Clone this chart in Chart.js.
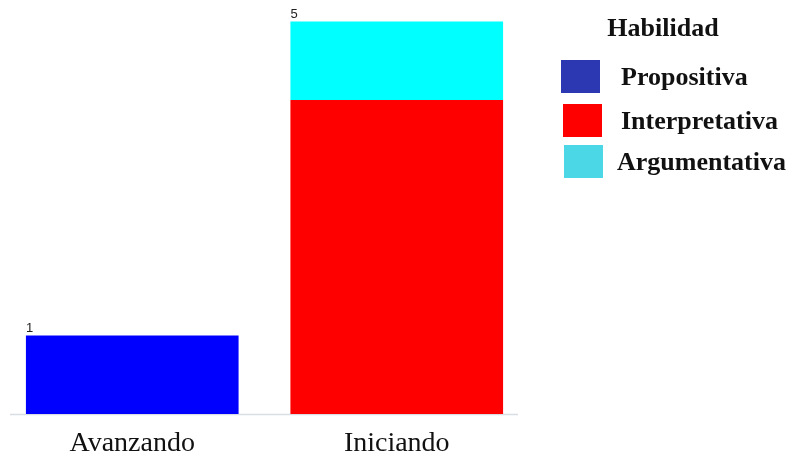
<!DOCTYPE html>
<html>
<head>
<meta charset="utf-8">
<script src="https://cdn.jsdelivr.net/npm/chart.js@4/dist/chart.umd.min.js"></script>
<style>
  html, body { margin: 0; padding: 0; background: #ffffff; }
  #wrap { width: 791px; height: 457px; position: relative; }
</style>
</head>
<body>
<div id="wrap"><canvas id="c" width="791" height="457"></canvas></div>
<script>
// Categories on the x axis
const categories = ['Avanzando', 'Iniciando'];

// Series (one per skill); null where a skill has no count
const seriesNames = ['Propositiva', 'Interpretativa', 'Argumentativa'];
const propositiva    = [1, null];
const interpretativa = [null, 4];
const argumentativa  = [null, 1];

const legendTitle = 'Habilidad';

// Styling
const barColors    = ['#0000ff', '#ff0000', '#00ffff'];
const swatchColors = ['#2b38b2', '#ff0000', '#4bd7e5'];

const seriesValues = [propositiva, interpretativa, argumentativa];

const datasets = seriesNames.map((name, i) => ({
  label: name,
  data: seriesValues[i],
  backgroundColor: barColors[i],
  borderWidth: 0,
  categoryPercentage: 1.0,
  barPercentage: 0.804
}));

// Baseline under the bars
const baselinePlugin = {
  id: 'baseline',
  beforeDatasetsDraw(chart) {
    const ctx = chart.ctx;
    const y = chart.scales.y.getPixelForValue(0);
    ctx.save();
    ctx.strokeStyle = '#d9dee4';
    ctx.lineWidth = 1.5;
    ctx.beginPath();
    ctx.moveTo(10, y + 0.5);
    ctx.lineTo(518, y + 0.5);
    ctx.stroke();
    ctx.restore();
  }
};

// Stack totals written just above the left edge of each bar
const totalsPlugin = {
  id: 'totals',
  afterDatasetsDraw(chart) {
    const ctx = chart.ctx;
    ctx.save();
    ctx.font = '13px "Liberation Sans", Arial, sans-serif';
    ctx.fillStyle = '#222222';
    ctx.textAlign = 'left';
    ctx.textBaseline = 'bottom';
    categories.forEach((cat, ci) => {
      let total = 0;
      let left = null;
      chart.data.datasets.forEach((ds, di) => {
        const v = ds.data[ci];
        if (v != null) {
          total += v;
          const el = chart.getDatasetMeta(di).data[ci];
          left = el.x - el.width / 2;
        }
      });
      const y = chart.scales.y.getPixelForValue(total);
      ctx.fillText(String(total), left, y - 1);
    });
    ctx.restore();
  }
};

// Legend block on the right
const legendPlugin = {
  id: 'sideLegend',
  afterDraw(chart) {
    const ctx = chart.ctx;
    ctx.save();
    ctx.fillStyle = '#111111';
    ctx.font = 'bold 26px "Liberation Serif", "Times New Roman", serif';
    ctx.textAlign = 'center';
    ctx.textBaseline = 'middle';
    ctx.fillText(legendTitle, 663, 29);

    const boxX = [561, 563, 564];
    const boxY = [60, 104, 145];
    const textX = [621, 621, 617];
    ctx.textAlign = 'left';
    chart.data.datasets.forEach((ds, i) => {
      ctx.fillStyle = swatchColors[i];
      ctx.fillRect(boxX[i], boxY[i], 39, 33);
      ctx.fillStyle = '#111111';
      ctx.fillText(ds.label, textX[i], boxY[i] + 18);
    });
    ctx.restore();
  }
};

new Chart(document.getElementById('c'), {
  type: 'bar',
  data: { labels: categories, datasets },
  options: {
    responsive: false,
    animation: false,
    layout: { padding: { left: 0, right: 262, top: 5.8, bottom: 0 } },
    plugins: {
      legend: { display: false },
      tooltip: { enabled: false }
    },
    scales: {
      x: {
        stacked: true,
        grid: { display: false, drawTicks: false },
        border: { display: false },
        ticks: {
          color: '#111111',
          padding: 13,
          font: { family: '"Liberation Serif", "Times New Roman", serif', size: 28 }
        },
        afterFit(scale) { scale.height = 43; }
      },
      y: {
        stacked: true,
        display: false,
        min: 0,
        max: 5.2
      }
    }
  },
  plugins: [baselinePlugin, totalsPlugin, legendPlugin]
});
</script>
</body>
</html>
